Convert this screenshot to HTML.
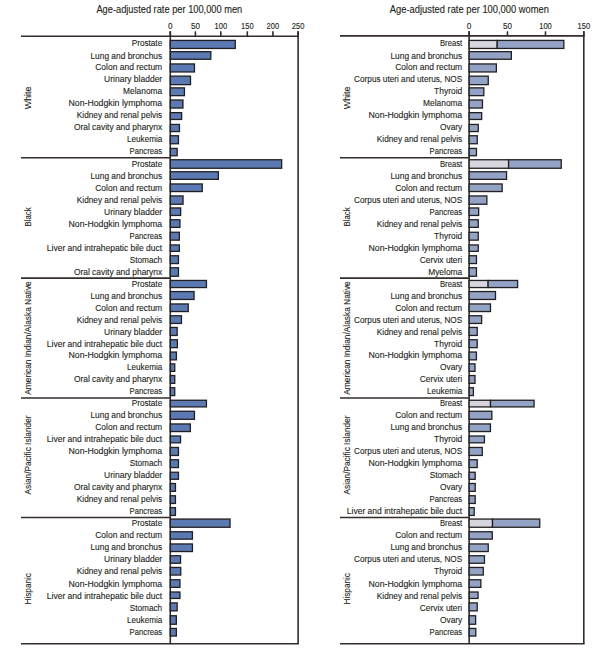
<!DOCTYPE html>
<html><head><meta charset="utf-8"><style>
html,body{margin:0;padding:0;background:#fff;width:597px;height:649px;overflow:hidden}
svg{display:block}
text{font-family:"Liberation Sans",sans-serif;fill:#231f20;stroke:#231f20;stroke-width:0.12px}
</style></head><body>
<svg width="597" height="649" viewBox="0 0 597 649">
<rect width="597" height="649" fill="#fff"/>
<text x="96.40" y="13.1" font-size="10" textLength="145.9" lengthAdjust="spacingAndGlyphs">Age-adjusted rate per 100,000 men</text>
<text x="168.00" y="28.8" font-size="8.6" textLength="4.6" lengthAdjust="spacingAndGlyphs">0</text>
<line x1="170.30" y1="31.3" x2="170.30" y2="36.25" stroke="#332c2b" stroke-width="1.6"/>
<text x="190.90" y="28.8" font-size="8.6" textLength="9.0" lengthAdjust="spacingAndGlyphs">50</text>
<line x1="195.40" y1="31.3" x2="195.40" y2="36.25" stroke="#332c2b" stroke-width="1.6"/>
<text x="214.50" y="28.8" font-size="8.6" textLength="12.6" lengthAdjust="spacingAndGlyphs">100</text>
<line x1="220.80" y1="31.3" x2="220.80" y2="36.25" stroke="#332c2b" stroke-width="1.6"/>
<text x="241.00" y="28.8" font-size="8.6" textLength="12.6" lengthAdjust="spacingAndGlyphs">150</text>
<line x1="247.30" y1="31.3" x2="247.30" y2="36.25" stroke="#332c2b" stroke-width="1.6"/>
<text x="266.60" y="28.8" font-size="8.6" textLength="12.6" lengthAdjust="spacingAndGlyphs">200</text>
<line x1="272.90" y1="31.3" x2="272.90" y2="36.25" stroke="#332c2b" stroke-width="1.6"/>
<text x="291.80" y="28.8" font-size="8.6" textLength="12.6" lengthAdjust="spacingAndGlyphs">250</text>
<line x1="298.10" y1="31.3" x2="298.10" y2="36.25" stroke="#332c2b" stroke-width="1.6"/>
<line x1="21" y1="36.25" x2="298.90000000000003" y2="36.25" stroke="#332c2b" stroke-width="1.6"/>
<line x1="21" y1="643.7" x2="298.90000000000003" y2="643.7" stroke="#332c2b" stroke-width="1.6"/>
<line x1="298.1" y1="31.3" x2="298.1" y2="643.7" stroke="#332c2b" stroke-width="1.6"/>
<line x1="170.3" y1="31.3" x2="170.3" y2="643.7" stroke="#332c2b" stroke-width="1.6"/>
<line x1="21" y1="157.8" x2="170.3" y2="157.8" stroke="#332c2b" stroke-width="1.6"/>
<line x1="21" y1="278.1" x2="170.3" y2="278.1" stroke="#332c2b" stroke-width="1.6"/>
<line x1="21" y1="398.0" x2="170.3" y2="398.0" stroke="#332c2b" stroke-width="1.6"/>
<line x1="21" y1="517.5" x2="170.3" y2="517.5" stroke="#332c2b" stroke-width="1.6"/>
<text transform="translate(31.0,109.15) rotate(-90)" x="0" y="0" font-size="8.9" textLength="22.5" lengthAdjust="spacingAndGlyphs">White</text>
<text x="131.70" y="46.00" font-size="8.9" textLength="30.5" lengthAdjust="spacingAndGlyphs">Prostate</text>
<rect x="170.30" y="40.41" width="64.95" height="8.04" fill="#5b7ab4" stroke="#231f20" stroke-width="1.3"/>
<text x="90.40" y="59.00" font-size="8.9" textLength="71.8" lengthAdjust="spacingAndGlyphs">Lung and bronchus</text>
<rect x="170.30" y="51.65" width="40.50" height="7.60" fill="#5b7ab4" stroke="#231f20" stroke-width="1.3"/>
<text x="95.20" y="70.00" font-size="8.9" textLength="67" lengthAdjust="spacingAndGlyphs">Colon and rectum</text>
<rect x="170.30" y="63.95" width="24.15" height="8.00" fill="#5b7ab4" stroke="#231f20" stroke-width="1.3"/>
<text x="104.10" y="82.00" font-size="8.9" textLength="58.1" lengthAdjust="spacingAndGlyphs">Urinary bladder</text>
<rect x="170.30" y="76.15" width="20.20" height="8.50" fill="#5b7ab4" stroke="#231f20" stroke-width="1.3"/>
<text x="123.10" y="94.00" font-size="8.9" textLength="39.1" lengthAdjust="spacingAndGlyphs">Melanoma</text>
<rect x="170.30" y="87.85" width="14.15" height="7.80" fill="#5b7ab4" stroke="#231f20" stroke-width="1.3"/>
<text x="68.50" y="106.00" font-size="8.9" textLength="93.7" lengthAdjust="spacingAndGlyphs">Non-Hodgkin lymphoma</text>
<rect x="170.30" y="100.00" width="12.65" height="8.05" fill="#5b7ab4" stroke="#231f20" stroke-width="1.3"/>
<text x="76.85" y="118.00" font-size="8.9" textLength="85.35" lengthAdjust="spacingAndGlyphs">Kidney and renal pelvis</text>
<rect x="170.30" y="112.65" width="11.35" height="6.80" fill="#5b7ab4" stroke="#231f20" stroke-width="1.3"/>
<text x="73.90" y="130.00" font-size="8.9" textLength="88.3" lengthAdjust="spacingAndGlyphs">Oral cavity and pharynx</text>
<rect x="170.30" y="124.45" width="9.15" height="7.10" fill="#5b7ab4" stroke="#231f20" stroke-width="1.3"/>
<text x="127.10" y="142.00" font-size="8.9" textLength="35.1" lengthAdjust="spacingAndGlyphs">Leukemia</text>
<rect x="170.30" y="135.75" width="8.15" height="8.00" fill="#5b7ab4" stroke="#231f20" stroke-width="1.3"/>
<text x="129.60" y="154.00" font-size="8.9" textLength="32.6" lengthAdjust="spacingAndGlyphs">Pancreas</text>
<rect x="170.30" y="148.40" width="6.85" height="7.35" fill="#5b7ab4" stroke="#231f20" stroke-width="1.3"/>
<text transform="translate(31.0,226.55) rotate(-90)" x="0" y="0" font-size="8.9" textLength="19.3" lengthAdjust="spacingAndGlyphs">Black</text>
<text x="131.70" y="167.00" font-size="8.9" textLength="30.5" lengthAdjust="spacingAndGlyphs">Prostate</text>
<rect x="170.30" y="159.75" width="111.35" height="8.50" fill="#5b7ab4" stroke="#231f20" stroke-width="1.3"/>
<text x="90.40" y="179.00" font-size="8.9" textLength="71.8" lengthAdjust="spacingAndGlyphs">Lung and bronchus</text>
<rect x="170.30" y="171.75" width="48.05" height="7.60" fill="#5b7ab4" stroke="#231f20" stroke-width="1.3"/>
<text x="95.20" y="191.00" font-size="8.9" textLength="67" lengthAdjust="spacingAndGlyphs">Colon and rectum</text>
<rect x="170.30" y="183.95" width="31.95" height="7.60" fill="#5b7ab4" stroke="#231f20" stroke-width="1.3"/>
<text x="76.85" y="203.00" font-size="8.9" textLength="85.35" lengthAdjust="spacingAndGlyphs">Kidney and renal pelvis</text>
<rect x="170.30" y="195.95" width="12.75" height="8.30" fill="#5b7ab4" stroke="#231f20" stroke-width="1.3"/>
<text x="104.10" y="215.00" font-size="8.9" textLength="58.1" lengthAdjust="spacingAndGlyphs">Urinary bladder</text>
<rect x="170.30" y="207.95" width="10.35" height="7.50" fill="#5b7ab4" stroke="#231f20" stroke-width="1.3"/>
<text x="68.50" y="227.00" font-size="8.9" textLength="93.7" lengthAdjust="spacingAndGlyphs">Non-Hodgkin lymphoma</text>
<rect x="170.30" y="219.75" width="9.65" height="7.60" fill="#5b7ab4" stroke="#231f20" stroke-width="1.3"/>
<text x="129.60" y="239.00" font-size="8.9" textLength="32.6" lengthAdjust="spacingAndGlyphs">Pancreas</text>
<rect x="170.30" y="232.25" width="9.05" height="7.90" fill="#5b7ab4" stroke="#231f20" stroke-width="1.3"/>
<text x="46.80" y="251.00" font-size="8.9" textLength="115.4" lengthAdjust="spacingAndGlyphs">Liver and intrahepatic bile duct</text>
<rect x="170.30" y="244.95" width="9.05" height="6.40" fill="#5b7ab4" stroke="#231f20" stroke-width="1.3"/>
<text x="129.70" y="263.00" font-size="8.9" textLength="32.5" lengthAdjust="spacingAndGlyphs">Stomach</text>
<rect x="170.30" y="255.75" width="8.15" height="7.80" fill="#5b7ab4" stroke="#231f20" stroke-width="1.3"/>
<text x="73.90" y="275.00" font-size="8.9" textLength="88.3" lengthAdjust="spacingAndGlyphs">Oral cavity and pharynx</text>
<rect x="170.30" y="267.75" width="8.15" height="8.50" fill="#5b7ab4" stroke="#231f20" stroke-width="1.3"/>
<text transform="translate(31.0,394.75) rotate(-90)" x="0" y="0" font-size="8.9" textLength="113.5" lengthAdjust="spacingAndGlyphs">American Indian/Alaska Native</text>
<text x="131.70" y="287.00" font-size="8.9" textLength="30.5" lengthAdjust="spacingAndGlyphs">Prostate</text>
<rect x="170.30" y="280.45" width="36.15" height="7.10" fill="#5b7ab4" stroke="#231f20" stroke-width="1.3"/>
<text x="90.40" y="299.00" font-size="8.9" textLength="71.8" lengthAdjust="spacingAndGlyphs">Lung and bronchus</text>
<rect x="170.30" y="291.55" width="23.75" height="7.90" fill="#5b7ab4" stroke="#231f20" stroke-width="1.3"/>
<text x="95.20" y="311.00" font-size="8.9" textLength="67" lengthAdjust="spacingAndGlyphs">Colon and rectum</text>
<rect x="170.30" y="303.95" width="17.95" height="7.60" fill="#5b7ab4" stroke="#231f20" stroke-width="1.3"/>
<text x="76.85" y="323.00" font-size="8.9" textLength="85.35" lengthAdjust="spacingAndGlyphs">Kidney and renal pelvis</text>
<rect x="170.30" y="315.75" width="11.15" height="7.70" fill="#5b7ab4" stroke="#231f20" stroke-width="1.3"/>
<text x="104.10" y="335.00" font-size="8.9" textLength="58.1" lengthAdjust="spacingAndGlyphs">Urinary bladder</text>
<rect x="170.30" y="327.45" width="6.85" height="8.00" fill="#5b7ab4" stroke="#231f20" stroke-width="1.3"/>
<text x="46.80" y="347.00" font-size="8.9" textLength="115.4" lengthAdjust="spacingAndGlyphs">Liver and intrahepatic bile duct</text>
<rect x="170.30" y="339.75" width="7.05" height="7.90" fill="#5b7ab4" stroke="#231f20" stroke-width="1.3"/>
<text x="68.50" y="358.00" font-size="8.9" textLength="93.7" lengthAdjust="spacingAndGlyphs">Non-Hodgkin lymphoma</text>
<rect x="170.30" y="352.05" width="6.10" height="7.80" fill="#5b7ab4" stroke="#231f20" stroke-width="1.3"/>
<text x="127.10" y="370.00" font-size="8.9" textLength="35.1" lengthAdjust="spacingAndGlyphs">Leukemia</text>
<rect x="170.30" y="363.85" width="4.45" height="7.50" fill="#5b7ab4" stroke="#231f20" stroke-width="1.3"/>
<text x="73.90" y="382.00" font-size="8.9" textLength="88.3" lengthAdjust="spacingAndGlyphs">Oral cavity and pharynx</text>
<rect x="170.30" y="375.55" width="4.45" height="7.80" fill="#5b7ab4" stroke="#231f20" stroke-width="1.3"/>
<text x="129.60" y="394.00" font-size="8.9" textLength="32.6" lengthAdjust="spacingAndGlyphs">Pancreas</text>
<rect x="170.30" y="387.75" width="4.45" height="7.80" fill="#5b7ab4" stroke="#231f20" stroke-width="1.3"/>
<text transform="translate(31.0,494.50) rotate(-90)" x="0" y="0" font-size="8.9" textLength="79" lengthAdjust="spacingAndGlyphs">Asian/Pacific Islander</text>
<text x="131.70" y="406.00" font-size="8.9" textLength="30.5" lengthAdjust="spacingAndGlyphs">Prostate</text>
<rect x="170.30" y="400.25" width="36.15" height="6.65" fill="#5b7ab4" stroke="#231f20" stroke-width="1.3"/>
<text x="90.40" y="418.00" font-size="8.9" textLength="71.8" lengthAdjust="spacingAndGlyphs">Lung and bronchus</text>
<rect x="170.30" y="411.25" width="24.15" height="8.05" fill="#5b7ab4" stroke="#231f20" stroke-width="1.3"/>
<text x="95.20" y="430.00" font-size="8.9" textLength="67" lengthAdjust="spacingAndGlyphs">Colon and rectum</text>
<rect x="170.30" y="423.95" width="20.05" height="7.60" fill="#5b7ab4" stroke="#231f20" stroke-width="1.3"/>
<text x="46.80" y="442.00" font-size="8.9" textLength="115.4" lengthAdjust="spacingAndGlyphs">Liver and intrahepatic bile duct</text>
<rect x="170.30" y="436.00" width="10.25" height="6.80" fill="#5b7ab4" stroke="#231f20" stroke-width="1.3"/>
<text x="68.50" y="454.00" font-size="8.9" textLength="93.7" lengthAdjust="spacingAndGlyphs">Non-Hodgkin lymphoma</text>
<rect x="170.30" y="447.45" width="8.15" height="8.00" fill="#5b7ab4" stroke="#231f20" stroke-width="1.3"/>
<text x="129.70" y="466.00" font-size="8.9" textLength="32.5" lengthAdjust="spacingAndGlyphs">Stomach</text>
<rect x="170.30" y="459.75" width="8.15" height="7.80" fill="#5b7ab4" stroke="#231f20" stroke-width="1.3"/>
<text x="104.10" y="478.00" font-size="8.9" textLength="58.1" lengthAdjust="spacingAndGlyphs">Urinary bladder</text>
<rect x="170.30" y="472.25" width="8.15" height="7.05" fill="#5b7ab4" stroke="#231f20" stroke-width="1.3"/>
<text x="73.90" y="490.00" font-size="8.9" textLength="88.3" lengthAdjust="spacingAndGlyphs">Oral cavity and pharynx</text>
<rect x="170.30" y="483.50" width="5.15" height="7.85" fill="#5b7ab4" stroke="#231f20" stroke-width="1.3"/>
<text x="76.85" y="502.00" font-size="8.9" textLength="85.35" lengthAdjust="spacingAndGlyphs">Kidney and renal pelvis</text>
<rect x="170.30" y="495.75" width="5.15" height="7.70" fill="#5b7ab4" stroke="#231f20" stroke-width="1.3"/>
<text x="129.60" y="514.00" font-size="8.9" textLength="32.6" lengthAdjust="spacingAndGlyphs">Pancreas</text>
<rect x="170.30" y="507.65" width="5.15" height="7.80" fill="#5b7ab4" stroke="#231f20" stroke-width="1.3"/>
<text transform="translate(31.0,604.55) rotate(-90)" x="0" y="0" font-size="8.9" textLength="31.5" lengthAdjust="spacingAndGlyphs">Hispanic</text>
<text x="131.70" y="526.00" font-size="8.9" textLength="30.5" lengthAdjust="spacingAndGlyphs">Prostate</text>
<rect x="170.30" y="519.05" width="59.75" height="8.20" fill="#5b7ab4" stroke="#231f20" stroke-width="1.3"/>
<text x="95.20" y="538.00" font-size="8.9" textLength="67" lengthAdjust="spacingAndGlyphs">Colon and rectum</text>
<rect x="170.30" y="531.75" width="22.15" height="7.40" fill="#5b7ab4" stroke="#231f20" stroke-width="1.3"/>
<text x="90.40" y="550.00" font-size="8.9" textLength="71.8" lengthAdjust="spacingAndGlyphs">Lung and bronchus</text>
<rect x="170.30" y="543.95" width="22.15" height="7.60" fill="#5b7ab4" stroke="#231f20" stroke-width="1.3"/>
<text x="104.10" y="562.00" font-size="8.9" textLength="58.1" lengthAdjust="spacingAndGlyphs">Urinary bladder</text>
<rect x="170.30" y="555.75" width="10.25" height="7.50" fill="#5b7ab4" stroke="#231f20" stroke-width="1.3"/>
<text x="76.85" y="574.00" font-size="8.9" textLength="85.35" lengthAdjust="spacingAndGlyphs">Kidney and renal pelvis</text>
<rect x="170.30" y="567.45" width="10.45" height="7.60" fill="#5b7ab4" stroke="#231f20" stroke-width="1.3"/>
<text x="68.50" y="587.00" font-size="8.9" textLength="93.7" lengthAdjust="spacingAndGlyphs">Non-Hodgkin lymphoma</text>
<rect x="170.30" y="579.75" width="9.65" height="7.60" fill="#5b7ab4" stroke="#231f20" stroke-width="1.3"/>
<text x="46.80" y="599.00" font-size="8.9" textLength="115.4" lengthAdjust="spacingAndGlyphs">Liver and intrahepatic bile duct</text>
<rect x="170.30" y="592.00" width="9.65" height="6.45" fill="#5b7ab4" stroke="#231f20" stroke-width="1.3"/>
<text x="129.70" y="611.00" font-size="8.9" textLength="32.5" lengthAdjust="spacingAndGlyphs">Stomach</text>
<rect x="170.30" y="602.90" width="6.85" height="7.95" fill="#5b7ab4" stroke="#231f20" stroke-width="1.3"/>
<text x="127.10" y="623.00" font-size="8.9" textLength="35.1" lengthAdjust="spacingAndGlyphs">Leukemia</text>
<rect x="170.30" y="615.75" width="6.05" height="8.50" fill="#5b7ab4" stroke="#231f20" stroke-width="1.3"/>
<text x="129.60" y="635.00" font-size="8.9" textLength="32.6" lengthAdjust="spacingAndGlyphs">Pancreas</text>
<rect x="170.30" y="628.45" width="6.05" height="7.60" fill="#5b7ab4" stroke="#231f20" stroke-width="1.3"/>
<text x="389.80" y="13.1" font-size="10" textLength="159.2" lengthAdjust="spacingAndGlyphs">Age-adjusted rate per 100,000 women</text>
<text x="466.85" y="28.8" font-size="8.6" textLength="4.6" lengthAdjust="spacingAndGlyphs">0</text>
<line x1="469.15" y1="31.3" x2="469.15" y2="35.9" stroke="#332c2b" stroke-width="1.6"/>
<text x="502.95" y="28.8" font-size="8.6" textLength="9.0" lengthAdjust="spacingAndGlyphs">50</text>
<line x1="507.45" y1="31.3" x2="507.45" y2="35.9" stroke="#332c2b" stroke-width="1.6"/>
<text x="539.20" y="28.8" font-size="8.6" textLength="12.6" lengthAdjust="spacingAndGlyphs">100</text>
<line x1="545.50" y1="31.3" x2="545.50" y2="35.9" stroke="#332c2b" stroke-width="1.6"/>
<text x="577.50" y="28.8" font-size="8.6" textLength="12.6" lengthAdjust="spacingAndGlyphs">150</text>
<line x1="583.80" y1="31.3" x2="583.80" y2="35.9" stroke="#332c2b" stroke-width="1.6"/>
<line x1="340" y1="35.9" x2="584.5999999999999" y2="35.9" stroke="#332c2b" stroke-width="1.6"/>
<line x1="340" y1="643.7" x2="584.5999999999999" y2="643.7" stroke="#332c2b" stroke-width="1.6"/>
<line x1="583.8" y1="31.3" x2="583.8" y2="643.7" stroke="#332c2b" stroke-width="1.6"/>
<line x1="469.15" y1="31.3" x2="469.15" y2="643.7" stroke="#332c2b" stroke-width="1.6"/>
<line x1="340" y1="157.8" x2="469.15" y2="157.8" stroke="#332c2b" stroke-width="1.6"/>
<line x1="340" y1="278.1" x2="469.15" y2="278.1" stroke="#332c2b" stroke-width="1.6"/>
<line x1="340" y1="398.0" x2="469.15" y2="398.0" stroke="#332c2b" stroke-width="1.6"/>
<line x1="340" y1="517.5" x2="469.15" y2="517.5" stroke="#332c2b" stroke-width="1.6"/>
<text transform="translate(350.0,109.15) rotate(-90)" x="0" y="0" font-size="8.9" textLength="22.5" lengthAdjust="spacingAndGlyphs">White</text>
<text x="440.00" y="46.00" font-size="8.9" textLength="22.2" lengthAdjust="spacingAndGlyphs">Breast</text>
<rect x="469.15" y="40.41" width="28.05" height="8.04" fill="#d6d6de" stroke="#231f20" stroke-width="1.3"/>
<rect x="497.20" y="40.41" width="66.65" height="8.04" fill="#93a3c6" stroke="#231f20" stroke-width="1.3"/>
<text x="390.40" y="59.00" font-size="8.9" textLength="71.8" lengthAdjust="spacingAndGlyphs">Lung and bronchus</text>
<rect x="469.15" y="51.65" width="42.20" height="7.60" fill="#93a3c6" stroke="#231f20" stroke-width="1.3"/>
<text x="395.20" y="70.00" font-size="8.9" textLength="67" lengthAdjust="spacingAndGlyphs">Colon and rectum</text>
<rect x="469.15" y="63.95" width="27.20" height="8.00" fill="#93a3c6" stroke="#231f20" stroke-width="1.3"/>
<text x="354.10" y="82.00" font-size="8.9" textLength="108.1" lengthAdjust="spacingAndGlyphs">Corpus uteri and uterus, NOS</text>
<rect x="469.15" y="76.15" width="19.10" height="8.50" fill="#93a3c6" stroke="#231f20" stroke-width="1.3"/>
<text x="434.10" y="94.00" font-size="8.9" textLength="28.1" lengthAdjust="spacingAndGlyphs">Thyroid</text>
<rect x="469.15" y="87.85" width="14.70" height="7.80" fill="#93a3c6" stroke="#231f20" stroke-width="1.3"/>
<text x="423.10" y="106.00" font-size="8.9" textLength="39.1" lengthAdjust="spacingAndGlyphs">Melanoma</text>
<rect x="469.15" y="100.00" width="13.30" height="8.05" fill="#93a3c6" stroke="#231f20" stroke-width="1.3"/>
<text x="368.50" y="118.00" font-size="8.9" textLength="93.7" lengthAdjust="spacingAndGlyphs">Non-Hodgkin lymphoma</text>
<rect x="469.15" y="112.65" width="12.50" height="6.80" fill="#93a3c6" stroke="#231f20" stroke-width="1.3"/>
<text x="440.00" y="130.00" font-size="8.9" textLength="22.2" lengthAdjust="spacingAndGlyphs">Ovary</text>
<rect x="469.15" y="124.45" width="9.10" height="7.10" fill="#93a3c6" stroke="#231f20" stroke-width="1.3"/>
<text x="376.85" y="142.00" font-size="8.9" textLength="85.35" lengthAdjust="spacingAndGlyphs">Kidney and renal pelvis</text>
<rect x="469.15" y="135.75" width="8.10" height="8.00" fill="#93a3c6" stroke="#231f20" stroke-width="1.3"/>
<text x="429.60" y="154.00" font-size="8.9" textLength="32.6" lengthAdjust="spacingAndGlyphs">Pancreas</text>
<rect x="469.15" y="148.40" width="7.30" height="7.35" fill="#93a3c6" stroke="#231f20" stroke-width="1.3"/>
<text transform="translate(350.0,226.55) rotate(-90)" x="0" y="0" font-size="8.9" textLength="19.3" lengthAdjust="spacingAndGlyphs">Black</text>
<text x="440.00" y="167.00" font-size="8.9" textLength="22.2" lengthAdjust="spacingAndGlyphs">Breast</text>
<rect x="469.15" y="159.75" width="39.45" height="8.50" fill="#d6d6de" stroke="#231f20" stroke-width="1.3"/>
<rect x="508.60" y="159.75" width="52.65" height="8.50" fill="#93a3c6" stroke="#231f20" stroke-width="1.3"/>
<text x="390.40" y="179.00" font-size="8.9" textLength="71.8" lengthAdjust="spacingAndGlyphs">Lung and bronchus</text>
<rect x="469.15" y="171.75" width="37.40" height="7.60" fill="#93a3c6" stroke="#231f20" stroke-width="1.3"/>
<text x="395.20" y="191.00" font-size="8.9" textLength="67" lengthAdjust="spacingAndGlyphs">Colon and rectum</text>
<rect x="469.15" y="183.95" width="33.00" height="7.60" fill="#93a3c6" stroke="#231f20" stroke-width="1.3"/>
<text x="354.10" y="203.00" font-size="8.9" textLength="108.1" lengthAdjust="spacingAndGlyphs">Corpus uteri and uterus, NOS</text>
<rect x="469.15" y="195.95" width="17.70" height="8.30" fill="#93a3c6" stroke="#231f20" stroke-width="1.3"/>
<text x="429.60" y="215.00" font-size="8.9" textLength="32.6" lengthAdjust="spacingAndGlyphs">Pancreas</text>
<rect x="469.15" y="207.95" width="9.50" height="7.50" fill="#93a3c6" stroke="#231f20" stroke-width="1.3"/>
<text x="376.85" y="227.00" font-size="8.9" textLength="85.35" lengthAdjust="spacingAndGlyphs">Kidney and renal pelvis</text>
<rect x="469.15" y="219.75" width="9.10" height="7.60" fill="#93a3c6" stroke="#231f20" stroke-width="1.3"/>
<text x="434.10" y="239.00" font-size="8.9" textLength="28.1" lengthAdjust="spacingAndGlyphs">Thyroid</text>
<rect x="469.15" y="232.25" width="9.10" height="7.90" fill="#93a3c6" stroke="#231f20" stroke-width="1.3"/>
<text x="368.50" y="251.00" font-size="8.9" textLength="93.7" lengthAdjust="spacingAndGlyphs">Non-Hodgkin lymphoma</text>
<rect x="469.15" y="244.95" width="9.10" height="6.40" fill="#93a3c6" stroke="#231f20" stroke-width="1.3"/>
<text x="419.80" y="263.00" font-size="8.9" textLength="42.4" lengthAdjust="spacingAndGlyphs">Cervix uteri</text>
<rect x="469.15" y="255.75" width="7.30" height="7.80" fill="#93a3c6" stroke="#231f20" stroke-width="1.3"/>
<text x="428.20" y="275.00" font-size="8.9" textLength="34" lengthAdjust="spacingAndGlyphs">Myeloma</text>
<rect x="469.15" y="267.75" width="7.30" height="8.50" fill="#93a3c6" stroke="#231f20" stroke-width="1.3"/>
<text transform="translate(350.0,394.75) rotate(-90)" x="0" y="0" font-size="8.9" textLength="113.5" lengthAdjust="spacingAndGlyphs">American Indian/Alaska Native</text>
<text x="440.00" y="287.00" font-size="8.9" textLength="22.2" lengthAdjust="spacingAndGlyphs">Breast</text>
<rect x="469.15" y="280.45" width="18.95" height="7.10" fill="#d6d6de" stroke="#231f20" stroke-width="1.3"/>
<rect x="488.10" y="280.45" width="29.51" height="7.10" fill="#93a3c6" stroke="#231f20" stroke-width="1.3"/>
<text x="390.40" y="299.00" font-size="8.9" textLength="71.8" lengthAdjust="spacingAndGlyphs">Lung and bronchus</text>
<rect x="469.15" y="291.55" width="26.35" height="7.90" fill="#93a3c6" stroke="#231f20" stroke-width="1.3"/>
<text x="395.20" y="311.00" font-size="8.9" textLength="67" lengthAdjust="spacingAndGlyphs">Colon and rectum</text>
<rect x="469.15" y="303.95" width="21.33" height="7.60" fill="#93a3c6" stroke="#231f20" stroke-width="1.3"/>
<text x="354.10" y="323.00" font-size="8.9" textLength="108.1" lengthAdjust="spacingAndGlyphs">Corpus uteri and uterus, NOS</text>
<rect x="469.15" y="315.75" width="12.48" height="7.70" fill="#93a3c6" stroke="#231f20" stroke-width="1.3"/>
<text x="376.85" y="335.00" font-size="8.9" textLength="85.35" lengthAdjust="spacingAndGlyphs">Kidney and renal pelvis</text>
<rect x="469.15" y="327.45" width="8.06" height="8.00" fill="#93a3c6" stroke="#231f20" stroke-width="1.3"/>
<text x="434.10" y="347.00" font-size="8.9" textLength="28.1" lengthAdjust="spacingAndGlyphs">Thyroid</text>
<rect x="469.15" y="339.75" width="8.06" height="7.90" fill="#93a3c6" stroke="#231f20" stroke-width="1.3"/>
<text x="368.50" y="358.00" font-size="8.9" textLength="93.7" lengthAdjust="spacingAndGlyphs">Non-Hodgkin lymphoma</text>
<rect x="469.15" y="352.05" width="7.26" height="7.80" fill="#93a3c6" stroke="#231f20" stroke-width="1.3"/>
<text x="440.00" y="370.00" font-size="8.9" textLength="22.2" lengthAdjust="spacingAndGlyphs">Ovary</text>
<rect x="469.15" y="363.85" width="5.85" height="7.50" fill="#93a3c6" stroke="#231f20" stroke-width="1.3"/>
<text x="419.80" y="382.00" font-size="8.9" textLength="42.4" lengthAdjust="spacingAndGlyphs">Cervix uteri</text>
<rect x="469.15" y="375.55" width="5.85" height="7.80" fill="#93a3c6" stroke="#231f20" stroke-width="1.3"/>
<text x="427.10" y="394.00" font-size="8.9" textLength="35.1" lengthAdjust="spacingAndGlyphs">Leukemia</text>
<rect x="469.15" y="387.75" width="4.24" height="7.80" fill="#93a3c6" stroke="#231f20" stroke-width="1.3"/>
<text transform="translate(350.0,494.50) rotate(-90)" x="0" y="0" font-size="8.9" textLength="79" lengthAdjust="spacingAndGlyphs">Asian/Pacific Islander</text>
<text x="440.00" y="406.00" font-size="8.9" textLength="22.2" lengthAdjust="spacingAndGlyphs">Breast</text>
<rect x="469.15" y="400.25" width="21.35" height="6.65" fill="#d6d6de" stroke="#231f20" stroke-width="1.3"/>
<rect x="490.50" y="400.25" width="43.60" height="6.65" fill="#93a3c6" stroke="#231f20" stroke-width="1.3"/>
<text x="395.20" y="418.00" font-size="8.9" textLength="67" lengthAdjust="spacingAndGlyphs">Colon and rectum</text>
<rect x="469.15" y="411.25" width="22.70" height="8.05" fill="#93a3c6" stroke="#231f20" stroke-width="1.3"/>
<text x="390.40" y="430.00" font-size="8.9" textLength="71.8" lengthAdjust="spacingAndGlyphs">Lung and bronchus</text>
<rect x="469.15" y="423.95" width="21.30" height="7.60" fill="#93a3c6" stroke="#231f20" stroke-width="1.3"/>
<text x="434.10" y="442.00" font-size="8.9" textLength="28.1" lengthAdjust="spacingAndGlyphs">Thyroid</text>
<rect x="469.15" y="436.00" width="15.30" height="6.80" fill="#93a3c6" stroke="#231f20" stroke-width="1.3"/>
<text x="354.10" y="454.00" font-size="8.9" textLength="108.1" lengthAdjust="spacingAndGlyphs">Corpus uteri and uterus, NOS</text>
<rect x="469.15" y="447.45" width="13.10" height="8.00" fill="#93a3c6" stroke="#231f20" stroke-width="1.3"/>
<text x="368.50" y="466.00" font-size="8.9" textLength="93.7" lengthAdjust="spacingAndGlyphs">Non-Hodgkin lymphoma</text>
<rect x="469.15" y="459.75" width="8.06" height="7.80" fill="#93a3c6" stroke="#231f20" stroke-width="1.3"/>
<text x="429.70" y="478.00" font-size="8.9" textLength="32.5" lengthAdjust="spacingAndGlyphs">Stomach</text>
<rect x="469.15" y="472.25" width="6.05" height="7.05" fill="#93a3c6" stroke="#231f20" stroke-width="1.3"/>
<text x="440.00" y="490.00" font-size="8.9" textLength="22.2" lengthAdjust="spacingAndGlyphs">Ovary</text>
<rect x="469.15" y="483.50" width="6.05" height="7.85" fill="#93a3c6" stroke="#231f20" stroke-width="1.3"/>
<text x="429.60" y="502.00" font-size="8.9" textLength="32.6" lengthAdjust="spacingAndGlyphs">Pancreas</text>
<rect x="469.15" y="495.75" width="6.05" height="7.70" fill="#93a3c6" stroke="#231f20" stroke-width="1.3"/>
<text x="346.80" y="514.00" font-size="8.9" textLength="115.4" lengthAdjust="spacingAndGlyphs">Liver and intrahepatic bile duct</text>
<rect x="469.15" y="507.65" width="5.05" height="7.80" fill="#93a3c6" stroke="#231f20" stroke-width="1.3"/>
<text transform="translate(350.0,604.55) rotate(-90)" x="0" y="0" font-size="8.9" textLength="31.5" lengthAdjust="spacingAndGlyphs">Hispanic</text>
<text x="440.00" y="526.00" font-size="8.9" textLength="22.2" lengthAdjust="spacingAndGlyphs">Breast</text>
<rect x="469.15" y="519.05" width="23.35" height="8.20" fill="#d6d6de" stroke="#231f20" stroke-width="1.3"/>
<rect x="492.50" y="519.05" width="47.25" height="8.20" fill="#93a3c6" stroke="#231f20" stroke-width="1.3"/>
<text x="395.20" y="538.00" font-size="8.9" textLength="67" lengthAdjust="spacingAndGlyphs">Colon and rectum</text>
<rect x="469.15" y="531.75" width="23.10" height="7.40" fill="#93a3c6" stroke="#231f20" stroke-width="1.3"/>
<text x="390.40" y="550.00" font-size="8.9" textLength="71.8" lengthAdjust="spacingAndGlyphs">Lung and bronchus</text>
<rect x="469.15" y="543.95" width="19.10" height="7.60" fill="#93a3c6" stroke="#231f20" stroke-width="1.3"/>
<text x="354.10" y="562.00" font-size="8.9" textLength="108.1" lengthAdjust="spacingAndGlyphs">Corpus uteri and uterus, NOS</text>
<rect x="469.15" y="555.75" width="15.30" height="7.50" fill="#93a3c6" stroke="#231f20" stroke-width="1.3"/>
<text x="434.10" y="574.00" font-size="8.9" textLength="28.1" lengthAdjust="spacingAndGlyphs">Thyroid</text>
<rect x="469.15" y="567.45" width="14.10" height="7.60" fill="#93a3c6" stroke="#231f20" stroke-width="1.3"/>
<text x="368.50" y="587.00" font-size="8.9" textLength="93.7" lengthAdjust="spacingAndGlyphs">Non-Hodgkin lymphoma</text>
<rect x="469.15" y="579.75" width="11.70" height="7.60" fill="#93a3c6" stroke="#231f20" stroke-width="1.3"/>
<text x="376.85" y="599.00" font-size="8.9" textLength="85.35" lengthAdjust="spacingAndGlyphs">Kidney and renal pelvis</text>
<rect x="469.15" y="592.00" width="8.90" height="6.45" fill="#93a3c6" stroke="#231f20" stroke-width="1.3"/>
<text x="419.80" y="611.00" font-size="8.9" textLength="42.4" lengthAdjust="spacingAndGlyphs">Cervix uteri</text>
<rect x="469.15" y="602.90" width="8.06" height="7.95" fill="#93a3c6" stroke="#231f20" stroke-width="1.3"/>
<text x="440.00" y="623.00" font-size="8.9" textLength="22.2" lengthAdjust="spacingAndGlyphs">Ovary</text>
<rect x="469.15" y="615.75" width="6.45" height="8.50" fill="#93a3c6" stroke="#231f20" stroke-width="1.3"/>
<text x="429.60" y="635.00" font-size="8.9" textLength="32.6" lengthAdjust="spacingAndGlyphs">Pancreas</text>
<rect x="469.15" y="628.45" width="6.65" height="7.60" fill="#93a3c6" stroke="#231f20" stroke-width="1.3"/>
</svg>
</body></html>
